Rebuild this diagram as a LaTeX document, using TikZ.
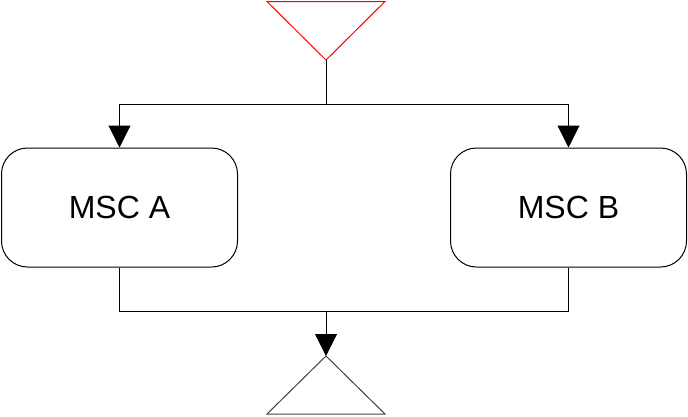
\documentclass[tikz,border=0pt]{standalone}
\usepackage{fontspec}
\setmainfont{Liberation Sans}
\usetikzlibrary{arrows.meta}
\begin{document}
\begin{tikzpicture}[x=1pt,y=-1pt,
  msc/.style={draw=black, line width=1pt, rounded corners=26pt, minimum width=236pt, minimum height=119pt, inner sep=0pt, font=\fontsize{32}{36}\selectfont},
  conn/.style={draw=black, line width=1pt},
  arr/.style={conn, -{Triangle[length=22pt,width=22pt]}}]
\useasboundingbox (0,0) rectangle (688,416);
% top start triangle
\coordinate (t1) at (267,1.5);
\coordinate (t2) at (385,1.5);
\coordinate (tapex) at (326,60);
\draw[red, line width=1pt, line join=miter] (t1) -- (t2) -- (tapex) -- cycle;
% boxes
\node[msc] (A) at (119.5,207.5) {MSC A};
\node[msc] (B) at (568.5,207.5) {MSC B};
% bottom triangle
\coordinate (bapex) at (326,356);
\coordinate (b1) at (267,414);
\coordinate (b2) at (385,414);
\draw[black!75, line width=1pt] (bapex) -- (b2) -- (b1) -- cycle;
% split
\coordinate (split) at (326,104);
\coordinate (join) at (326,311);
\draw[conn] (tapex) -- (split);
\draw[arr] (split) -| (A.north);
\draw[arr] (split) -| (B.north);
\draw[conn] (A.south) |- (join);
\draw[conn] (B.south) |- (join);
\draw[arr] (join) -- (bapex);
\end{tikzpicture}
\end{document}
